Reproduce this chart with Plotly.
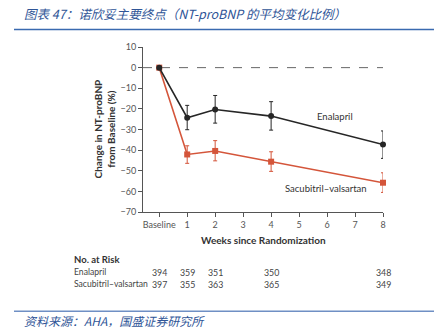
import plotly.graph_objects as go

# ---- data ----
x_vals = [0, 1, 2, 4, 8]
tick_vals = [0, 1, 2, 3, 4, 5, 6, 7, 8]
tick_text = ["Baseline", "1", "2", "3", "4", "5", "6", "7", "8"]
y_tick_vals = [10, 0, -10, -20, -30, -40, -50, -60, -70]

enalapril = [0, -24.3, -20.3, -23.5, -37.3]
enalapril_plus = [0, 6.0, 6.8, 7.0, 6.6]
enalapril_minus = [0, 5.8, 6.6, 6.8, 6.7]

sacubitril = [0, -42.1, -40.4, -45.6, -55.8]
sacubitril_plus = [0, 4.2, 5.0, 4.8, 4.8]
sacubitril_minus = [0, 4.3, 4.8, 4.7, 4.7]

risk_x = [0, 1, 2, 4, 8]
risk_enalapril = [394, 359, 351, 350, 348]
risk_sacubitril = [397, 355, 363, 365, 349]

title_text = "图表 47：诺欣妥主要终点（NT-proBNP 的平均变化比例）"
source_text = "资料来源：AHA，国盛证券研究所"

# ---- layout geometry (pixels) ----
W, H = 436, 331
L, R, T, B = 143, 383, 46.5, 211.7


def px(xp):
    return (xp - L) / (R - L)


def py(yp):
    return (B - yp) / (B - T)


BLACK = "#262626"
RED = "#d4553a"
TICK = "#555555"
FONT = "Lato, 'Open Sans', sans-serif"
CJK = "'Noto Sans CJK SC', sans-serif"

fig = go.Figure()

fig.add_trace(go.Scatter(
    x=x_vals, y=sacubitril, mode="lines+markers", cliponaxis=False,
    line=dict(color=RED, width=1.6),
    marker=dict(symbol="square", size=6, color=RED),
    error_y=dict(type="data", array=sacubitril_plus, arrayminus=sacubitril_minus,
                 color=RED, thickness=1, width=2),
    showlegend=False, name="Sacubitril–valsartan"))

fig.add_trace(go.Scatter(
    x=x_vals, y=enalapril, mode="lines+markers", cliponaxis=False,
    line=dict(color=BLACK, width=1.6),
    marker=dict(symbol="circle", size=6, color=BLACK),
    error_y=dict(type="data", array=enalapril_plus, arrayminus=enalapril_minus,
                 color=BLACK, thickness=1, width=2),
    showlegend=False, name="Enalapril"))


def ann(x, y, text, size, color="#333333", xanchor="center", family=FONT,
        xref="paper", yref="paper", angle=0):
    return dict(x=x, y=y, xref=xref, yref=yref, text=text, showarrow=False,
                xanchor=xanchor, yanchor="middle", textangle=angle,
                font=dict(family=family, size=size, color=color))


annotations = [
    ann(6.3, -23.5, "Enalapril", 9.5, xref="x", yref="y"),
    ann(5.95, -58.5, "Sacubitril–valsartan", 9.5, xref="x", yref="y"),
    ann(px(104), py(129), "<b>Change in NT-proBNP<br>from Baseline (%)</b>", 10, angle=-90),
    ann(px(263), py(240), "<b>Weeks since Randomization</b>", 10),
    ann(px(72), py(259), "<b>No. at Risk</b>", 9.5, xanchor="left"),
    ann(px(72), py(272), "Enalapril", 8.6, color="#444444", xanchor="left"),
    ann(px(72), py(284), "Sacubitril–valsartan", 8.6, color="#444444", xanchor="left"),
]
for xv, n in zip(risk_x, risk_enalapril):
    annotations.append(ann(xv, py(272), str(n), 8.8, color="#444444", xref="x"))
for xv, n in zip(risk_x, risk_sacubitril):
    annotations.append(ann(xv, py(284), str(n), 8.8, color="#444444", xref="x"))

annotations.append(ann(px(22), py(13), "<i>" + title_text + "</i>", 12.5,
                       color="#2f5597", xanchor="left", family=CJK))
annotations.append(ann(px(22), py(320), "<i>" + source_text + "</i>", 12,
                       color="#2f5597", xanchor="left", family=CJK))

shapes = [
    dict(type="line", xref="paper", yref="y", x0=0, x1=1, y0=0, y1=0,
         line=dict(color="#666666", width=1, dash="dash"), layer="below"),
    dict(type="line", xref="paper", yref="paper", x0=px(14), x1=px(434), y0=py(29), y1=py(29),
         line=dict(color="#3a6ab0", width=1.5)),
    dict(type="line", xref="paper", yref="paper", x0=px(14), x1=px(434), y0=py(311), y1=py(311),
         line=dict(color="#6f8fc4", width=1.5)),
]

fig.update_layout(
    width=W, height=H,
    margin=dict(l=L, r=W - R, t=T, b=H - B, pad=0),
    paper_bgcolor="white", plot_bgcolor="white",
    annotations=annotations, shapes=shapes,
    xaxis=dict(range=[-0.58, 8], tickvals=tick_vals, ticktext=tick_text,
               showgrid=False, zeroline=False, showline=True, linecolor="#555555",
               linewidth=1, ticks="outside", ticklen=4, tickcolor="#555555",
               tickfont=dict(family=FONT, size=9, color=TICK)),
    yaxis=dict(range=[-70, 10], tickvals=y_tick_vals,
               showgrid=False, zeroline=False, showline=True, linecolor="#555555",
               linewidth=1, ticks="outside", ticklen=4, tickcolor="#555555",
               tickfont=dict(family=FONT, size=9, color=TICK)),
)

fig.write_html("out.html")
